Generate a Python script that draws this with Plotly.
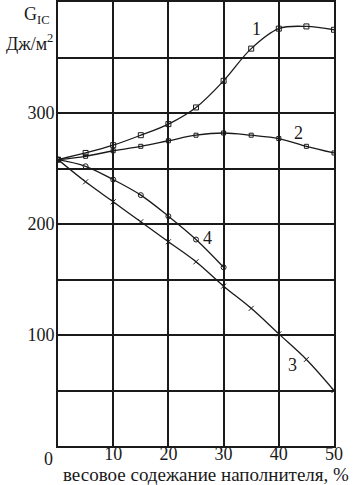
import plotly.graph_objects as go

x_pct = [0, 5, 10, 15, 20, 25, 30, 35, 40, 45, 50]
curve1 = [258, 264, 271, 280, 290, 305, 329, 358, 376, 378, 375]
curve2 = [258, 261, 266, 270, 275, 280, 282, 280, 277, 270, 264]
x_curve3 = [0, 5, 10, 15, 20, 25, 30, 35, 40, 45, 50]
curve3 = [258, 238, 220, 202, 184, 166, 144, 124, 101, 78, 50]
x_curve4 = [0, 5, 10, 15, 20, 25, 30]
curve4 = [258, 252, 240, 226, 207, 186, 161]

y_ticks = [0, 50, 100, 150, 200, 250, 300, 350, 400]
y_ticktext = ["", "", "100", "", "200", "", "300", "", ""]
x_ticks = [0, 10, 20, 30, 40, 50]
x_ticktext = ["", "10", "20", "30", "40", "50"]

font_fam = "Liberation Serif"
ink = "#1a1a1a"

fig = go.Figure()
fig.add_trace(go.Scatter(x=x_pct, y=curve1, mode="lines+markers", line=dict(color=ink, width=1.3, shape="spline"),
                         marker=dict(symbol="square-open", size=5, color=ink, line=dict(width=1))))
fig.add_trace(go.Scatter(x=x_pct, y=curve2, mode="lines+markers", line=dict(color=ink, width=1.3, shape="spline"),
                         marker=dict(symbol="square-open", size=4, color=ink, line=dict(width=1))))
fig.add_trace(go.Scatter(x=x_curve3, y=curve3, mode="lines+markers", line=dict(color=ink, width=1.3, shape="spline"),
                         marker=dict(symbol="x-thin", size=5, color=ink, line=dict(width=1, color=ink))))
fig.add_trace(go.Scatter(x=x_curve4, y=curve4, mode="lines+markers", line=dict(color=ink, width=1.3, shape="spline"),
                         marker=dict(symbol="circle-open", size=5, color=ink, line=dict(width=1))))

labels = [("1", 36, 376), ("2", 43.5, 282), ("3", 42.5, 73), ("4", 27, 187)]
for t, lx, ly in labels:
    fig.add_annotation(x=lx, y=ly, text=t, showarrow=False, font=dict(family=font_fam, size=18, color=ink))

fig.add_annotation(xref="paper", yref="paper", x=-0.011, y=-0.002, text="0", showarrow=False,
                   xanchor="right", yanchor="top", font=dict(family=font_fam, size=18, color=ink))
fig.add_annotation(xref="paper", yref="paper", x=-0.02, y=1.0, text="G<sub>IC</sub>", showarrow=False,
                   xanchor="right", yanchor="top", font=dict(family=font_fam, size=18, color=ink))
fig.add_annotation(xref="paper", yref="paper", x=-0.01, y=0.94, text="Дж/м<sup>2</sup>", showarrow=False,
                   xanchor="right", yanchor="top", font=dict(family=font_fam, size=18, color=ink))
fig.add_annotation(xref="paper", yref="paper", x=0.536, y=-0.064, text="весовое содежание наполнителя, %",
                   showarrow=False, xanchor="center", yanchor="middle",
                   font=dict(family=font_fam, size=19, color=ink))

fig.update_layout(
    width=355, height=485,
    margin=dict(l=58, r=21, t=2, b=39),
    paper_bgcolor="white", plot_bgcolor="white",
    showlegend=False,
    font=dict(family=font_fam, size=18, color=ink),
)
fig.update_xaxes(range=[0, 50], tickvals=x_ticks, ticktext=x_ticktext, showgrid=True, gridcolor=ink, gridwidth=1.5,
                 showline=True, mirror=True, linecolor=ink, linewidth=2, ticks="", zeroline=False,
                 automargin=False, tickfont=dict(size=18), ticklabelstandoff=-10)
fig.update_yaxes(range=[0, 400], tickvals=y_ticks, ticktext=y_ticktext, showgrid=True, gridcolor=ink, gridwidth=1.5,
                 showline=True, mirror=True, linecolor=ink, linewidth=2, ticks="", zeroline=False,
                 automargin=False, tickfont=dict(size=18), ticklabelstandoff=-2)

fig.write_html("out.html", config={"displayModeBar": False},
               post_script="document.body.style.margin='0';")
